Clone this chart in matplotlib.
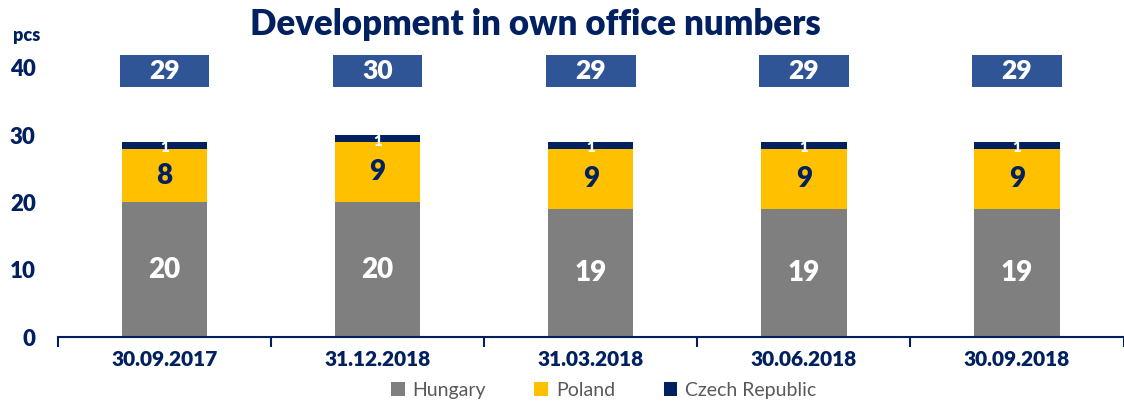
import matplotlib.pyplot as plt
import numpy as np

# adatok
dates = ['30.09.2017', '31.12.2018', '31.03.2018', '30.06.2018', '30.09.2018']
hungary = [20, 20, 19, 19, 19]
poland = [8, 9, 9, 9, 9]
czech = [1, 1, 1, 1, 1]
totals = [29, 30, 29, 29, 29]

navy = '#002060'
plt.rcParams['font.family'] = ['Lato', 'DejaVu Sans']
bw = 'heavy'

fig = plt.figure(figsize=(11.24, 4.01), dpi=100)
ax = fig.add_axes([0.0516, 0.1596, 0.948, 0.671])

x = np.arange(len(dates))
w = 0.4
h = np.array(hungary)
p = np.array(poland)
c = np.array(czech)
ax.bar(x, h, w, color='#7F7F7F', label='Hungary')
ax.bar(x, p, w, bottom=h, color='#FFC000', label='Poland')
ax.bar(x, c, w, bottom=h + p, color=navy, label='Czech Republic')

# dobozok az osszeggel
ax.bar(x, 4.7, 0.42, bottom=37.2, color='#2F5597', clip_on=False)

for i in range(len(dates)):
    ax.text(x[i], h[i] / 2, str(hungary[i]), ha='center', va='center',
            color='white', fontsize=20, fontweight=bw)
    ax.text(x[i], h[i] + p[i] / 2, str(poland[i]), ha='center', va='center',
            color=navy, fontsize=20, fontweight=bw)
    ax.text(x[i], h[i] + p[i] + 0.1, str(czech[i]), ha='center', va='center',
            color='white', fontsize=11, fontweight=bw)
    ax.text(x[i], 39.55, str(totals[i]), ha='center', va='center',
            color='white', fontsize=19, fontweight=bw, clip_on=False)

ax.set_xlim(-0.5, len(dates) - 0.5)
ax.set_ylim(0, 40)
ax.set_yticks([0, 10, 20, 30, 40])
ax.set_xticks(x)
ax.set_xticklabels(dates)
ax.set_xticks(np.arange(len(dates) + 1) - 0.5, minor=True)
ax.tick_params(axis='x', which='major', length=0, pad=9, labelsize=15,
               labelcolor=navy)
ax.tick_params(axis='x', which='minor', length=7, width=1.5, color=navy,
               direction='out')
ax.tick_params(axis='y', length=0, pad=16, labelsize=16, labelcolor=navy)
for lbl in ax.get_xticklabels() + ax.get_yticklabels():
    lbl.set_fontweight(bw)
for s in ['top', 'right', 'left']:
    ax.spines[s].set_visible(False)
ax.spines['bottom'].set_color(navy)
ax.spines['bottom'].set_linewidth(1.5)

fig.text(0.0115, 0.898, 'pcs', color=navy, fontsize=13, fontweight=bw)
fig.text(0.476, 0.94, 'Development in own office numbers', ha='center',
         va='center', color=navy, fontsize=25, fontweight=bw)

leg = fig.legend(loc='center', bbox_to_anchor=(0.537, 0.027), ncol=3,
                 frameon=False, fontsize=14, handlelength=0.7,
                 handleheight=0.7, columnspacing=2.5, handletextpad=0.4)
for t in leg.get_texts():
    t.set_color('#595959')

fig.savefig('out.png', dpi=100)
